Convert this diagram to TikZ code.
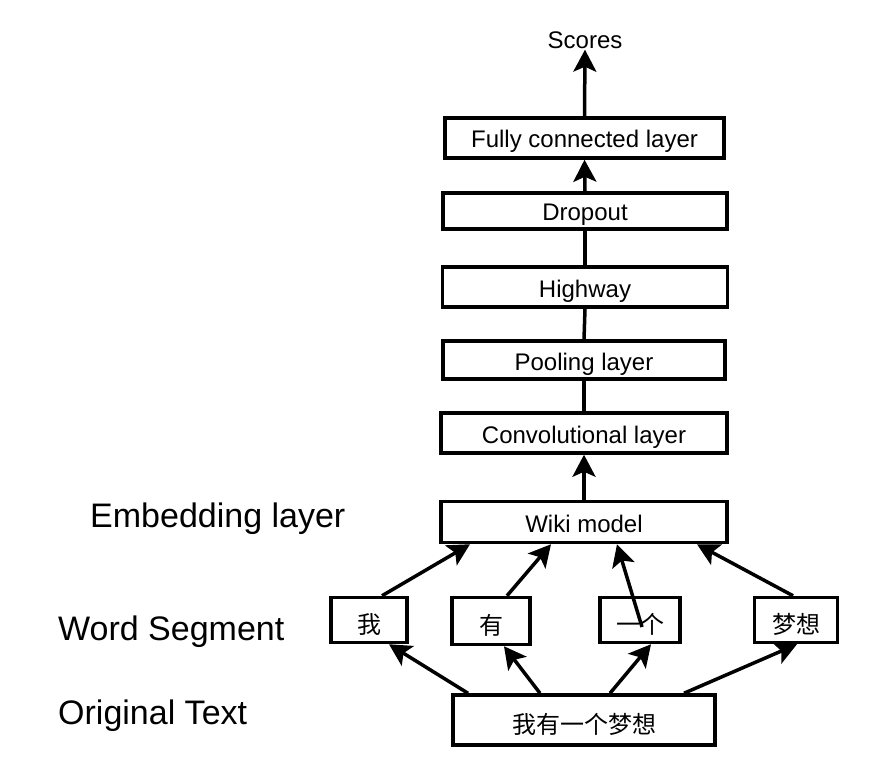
\documentclass[tikz,border=0pt]{standalone}
\usepackage{fontspec}
\setmainfont{Liberation Sans}
\newfontfamily\cjk{Noto Sans CJK SC}
\usetikzlibrary{arrows.meta}
\begin{document}
\begin{tikzpicture}[x=1pt,y=-1pt,
  layer/.style={draw,line width=3.5pt,inner sep=0pt,text height=24pt,text depth=4pt,font=\fontsize{24}{28}\selectfont},
  seg/.style={draw,line width=3.5pt,inner sep=0pt,text height=28pt,text depth=2pt,font=\fontsize{24}{28}\selectfont\cjk},
  lbl/.style={inner sep=0pt,anchor=base west,font=\fontsize{34}{40}\selectfont},
  conn/.style={line width=3.5pt},
  arr/.style={line width=3.5pt,-{Stealth[length=22pt,width=23pt,inset=5pt]}}]
\useasboundingbox (0,0) rectangle (894,770);
\node[inner sep=1pt,font=\fontsize{24}{28}\selectfont] (scores) at (585,40) {Scores};
\node[layer,minimum width=279pt,minimum height=40pt] (fc) at (584.5,138) {Fully connected layer};
\node[layer,minimum width=284pt,minimum height=36pt] (drop) at (585,211) {Dropout};
\node[layer,minimum width=285pt,minimum height=40pt] (hw) at (585,287) {Highway};
\node[layer,minimum width=282pt,minimum height=38pt] (pool) at (584,360) {Pooling layer};
\node[layer,minimum width=286pt,minimum height=40pt] (conv) at (584,433) {Convolutional layer};
\node[layer,minimum width=286pt,minimum height=41pt] (wiki) at (584,522) {Wiki model};
\node[seg,minimum width=76pt,minimum height=45pt] (w1) at (369,620) {我};
\node[seg,minimum width=78pt,minimum height=47pt] (w2) at (491,621) {有};
\node[seg,minimum width=80pt,minimum height=45pt] (w3) at (640,620) {一个};
\node[seg,minimum width=83pt,minimum height=45pt] (w4) at (796,620) {梦想};
\node[seg,minimum width=262pt,minimum height=50pt] (orig) at (584,720) {我有一个梦想};
\node[lbl] (lemb) at (90,527) {Embedding layer};
\node[lbl] (lseg) at (58,640) {Word Segment};
\node[lbl] (lorig) at (58,724) {Original Text};
\draw[arr] (fc.north) -- (scores.south);
\draw[arr] (drop.north) -- (fc.south);
\draw[conn] (hw.north) -- (drop.south);
\draw[conn] (pool.north) -- (hw.south);
\draw[conn] (conv.north) -- (pool.south);
\draw[arr] (wiki.north) -- (conv.south);
\draw[arr] ([xshift=13pt]w1.north) -- ([xshift=-114pt]wiki.south);
\draw[arr] ([xshift=16pt]w2.north) -- ([xshift=-33pt]wiki.south);
\draw[arr] ([xshift=2pt,yshift=-7pt]w3.center) -- ([xshift=33pt]wiki.south);
\draw[arr] ([xshift=-3pt]w4.north) -- ([xshift=113pt]wiki.south);
\draw[arr] ([xshift=-116pt]orig.north) -- ([xshift=20pt]w1.south);
\draw[arr] ([xshift=-44pt]orig.north) -- ([xshift=13pt]w2.south);
\draw[arr] ([xshift=26pt]orig.north) -- ([xshift=11pt]w3.south);
\draw[arr] ([xshift=100pt]orig.north) -- ([xshift=1pt]w4.south);
\end{tikzpicture}
\end{document}
